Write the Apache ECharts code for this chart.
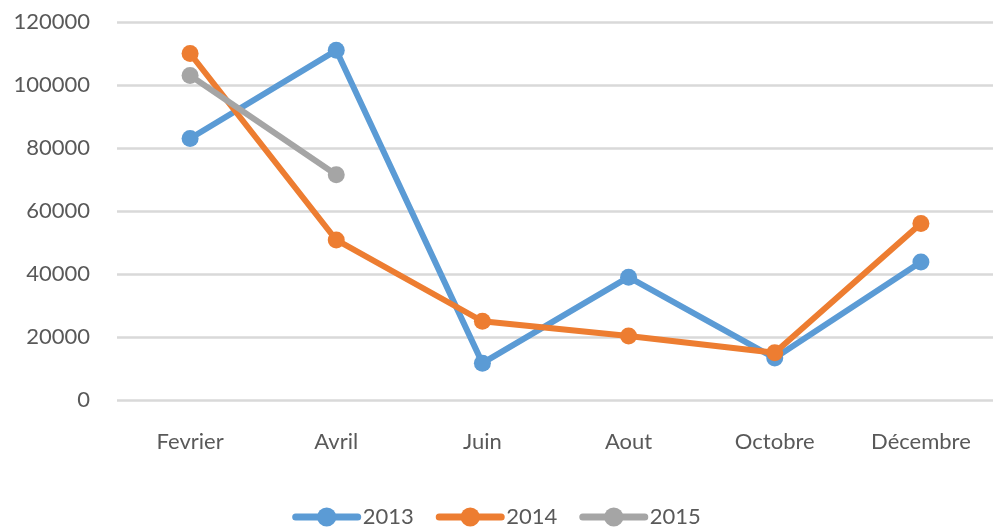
<!DOCTYPE html>
<html>
<head>
<meta charset="utf-8">
<script src="https://cdn.jsdelivr.net/npm/echarts@6/dist/echarts.min.js"></script>
<style>
  html, body { margin: 0; padding: 0; background: #fff; }
  #chart { width: 993px; height: 530px; }
</style>
</head>
<body>
<div id="chart"></div>
<script>
// Month categories and yearly values.
const months = ['Fevrier', 'Avril', 'Juin', 'Aout', 'Octobre', 'Décembre'];
const years = ['2013', '2014', '2015'];
const values2013 = [83000, 111000, 11700, 39000, 13300, 43800];
const values2014 = [110000, 50800, 25000, 20300, 15000, 56000];
const values2015 = [103000, 71500, null, null, null, null];
const colors = ['#5B9BD5', '#ED7D31', '#A5A5A5'];

const textColor = '#595959';
const font = 'Lato, "Open Sans", sans-serif';

function lineSeries(name, data, color) {
  return {
    name,
    type: 'line',
    data,
    symbol: 'circle',
    symbolSize: 17,
    connectNulls: false,
    lineStyle: { color, width: 6 },
    itemStyle: { color },
    emphasis: { disabled: true },
  };
}

const chart = echarts.init(document.getElementById('chart'), null, { renderer: 'canvas' });
chart.setOption({
  animation: false,
  color: colors,
  grid: { left: 117, top: 22, width: 877, height: 378, outerBoundsMode: 'none' },
  xAxis: {
    type: 'category',
    data: months,
    boundaryGap: true,
    axisLine: { show: false },
    axisTick: { show: false },
    axisLabel: { color: textColor, fontFamily: font, fontSize: 22, margin: 31 },
  },
  yAxis: {
    type: 'value',
    min: 0,
    max: 120000,
    interval: 20000,
    axisLine: { show: false },
    axisTick: { show: false },
    axisLabel: { color: textColor, fontFamily: font, fontSize: 22, margin: 27, formatter: (v) => String(v) },
    splitLine: { lineStyle: { color: '#D9D9D9', width: 2.5 } },
  },
  legend: {
    data: years,
    top: 501,
    left: 'center',
    itemWidth: 62,
    itemHeight: 24,
    itemGap: 22,
    lineStyle: { width: 7, cap: 'round' },
    textStyle: { color: textColor, fontFamily: font, fontSize: 22 },
  },
  series: [
    lineSeries('2013', values2013, colors[0]),
    lineSeries('2014', values2014, colors[1]),
    lineSeries('2015', values2015, colors[2]),
  ],
});
</script>
</body>
</html>
